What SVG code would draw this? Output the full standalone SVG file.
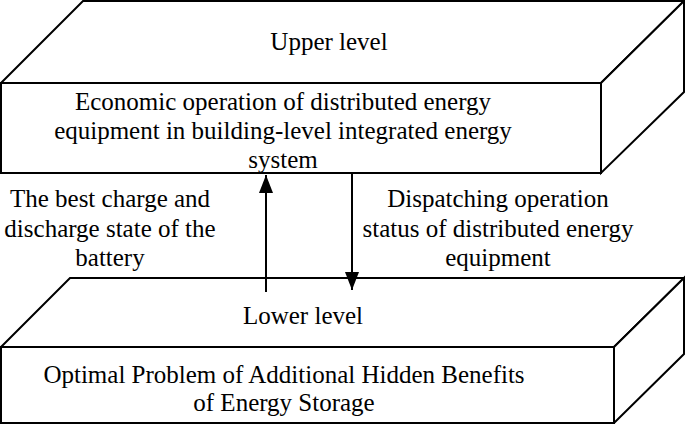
<svg xmlns="http://www.w3.org/2000/svg" width="685" height="424" viewBox="0 0 685 424">
<style>
.box{fill:#fff;stroke:#000;stroke-width:2;stroke-linejoin:miter}
.t{font-family:'Liberation Serif','Times New Roman',serif;font-size:25px;fill:#000;text-anchor:middle}
.c{stroke:#000;stroke-width:2;fill:none}
</style>
<defs>
<marker id="ah" viewBox="0 0 18 14" refX="18" refY="7" markerWidth="18" markerHeight="14" markerUnits="userSpaceOnUse" orient="auto">
<path d="M0,0 L18,7 L0,14 Z" fill="#000"/>
</marker>
</defs>
<rect width="685" height="424" fill="#fff"/>
<g id="upper">
<polygon class="box" points="1,83 83,1 684,1 601,83"/>
<polygon class="box" points="601,83 684,1 684,92 601,173"/>
<rect class="box" x="1" y="83" width="600" height="90"/>
<text class="t" x="329" y="50">Upper level</text>
<text class="t" x="283" y="110">Economic operation of distributed energy</text>
<text class="t" x="283" y="139">equipment in building-level integrated energy</text>
<text class="t" x="283" y="168">system</text>
</g>
<g id="lower">
<polygon class="box" points="1,347 70,278 684,278 614,347"/>
<polygon class="box" points="614,347 684,278 684,354 614,423"/>
<rect class="box" x="1" y="347" width="613" height="76"/>
<text class="t" x="303" y="324">Lower level</text>
<text class="t" x="284" y="383">Optimal Problem of Additional Hidden Benefits</text>
<text class="t" x="284" y="411">of Energy Storage</text>
</g>
<g id="connectors">
<line class="c" x1="266" y1="292" x2="266" y2="175" marker-end="url(#ah)"/>
<line class="c" x1="352" y1="174" x2="352" y2="290" marker-end="url(#ah)"/>
</g>
<g id="labels">
<text class="t" x="110" y="207">The best charge and</text>
<text class="t" x="110" y="237">discharge state of the</text>
<text class="t" x="110" y="266">battery</text>
<text class="t" x="498" y="207">Dispatching operation</text>
<text class="t" x="498" y="237">status of distributed energy</text>
<text class="t" x="498" y="266">equipment</text>
</g>
</svg>
